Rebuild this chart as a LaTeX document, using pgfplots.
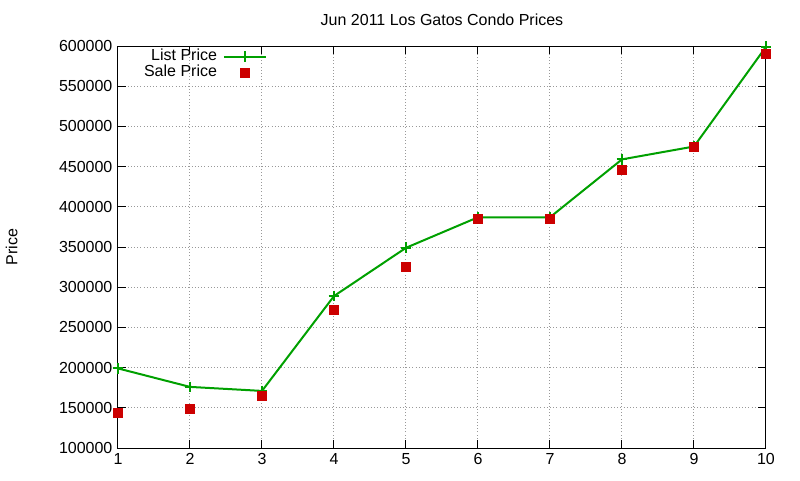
\documentclass[border=0pt]{standalone}
\usepackage{pgfplots}
\pgfplotsset{compat=1.18}
\usepackage{fontspec}
\setmainfont{Liberation Sans}

\definecolor{listgreen}{RGB}{0,160,0}
\definecolor{salered}{RGB}{204,0,0}

\pgfplotsset{
    widelegend/.style={
        legend image code/.code={\draw[mark repeat=2,mark phase=2,##1] plot coordinates {(0cm,0cm) (0.55cm,0cm) (1.1cm,0cm)};}
    }
}

\begin{document}
\fontsize{12}{14}\selectfont
\begin{tikzpicture}
\useasboundingbox (0,0) rectangle (600pt,360pt);
\begin{axis}[
    at={(88.5pt,24pt)}, anchor=south west,
    scale only axis,
    width=486pt, height=301.5pt,
    xmin=1, xmax=10, ymin=100000, ymax=600000,
    xtick={1,...,10},
    ytick={100000,150000,...,600000},
    scaled y ticks=false,
    /pgf/number format/.cd, fixed, 1000 sep={}, assume math mode=true,
    /pgfplots/.cd,
    tick align=inside,
    major tick length=6pt,
    tick style={black, line width=0.75pt},
    axis line style={black, line width=0.75pt},
    grid=major,
    grid style={gray!80, dotted, line width=0.75pt},
    title={Jun 2011 Los Gatos Condo Prices},
    title style={at={(axis description cs:0.5,1)}, anchor=south, yshift=5pt},
    ylabel={Price},
    ylabel style={at={(axis description cs:-0.164,0.5)}, anchor=center},
    legend plot pos=right,
    legend cell align=right,
    legend style={draw=none, fill=none, at={(axis description cs:0.232,0.997)}, anchor=north east,
        row sep=0pt, column sep=4pt, inner sep=1pt,
        nodes={inner sep=0.5pt, text height=8.6pt, text depth=2.4pt}},
]
\addplot[listgreen, line width=1.5pt, mark=+, mark size=4pt, widelegend]
coordinates {
    (1,199000) (2,176000) (3,171000) (4,289000) (5,349000)
    (6,387000) (7,387000) (8,459000) (9,475000) (10,599000)
};
\addlegendentry{List Price}
\addplot[salered, only marks, mark=square*, mark size=3.4pt, widelegend]
coordinates {
    (1,144000) (2,149000) (3,165000) (4,272000) (5,325000)
    (6,385000) (7,385000) (8,446000) (9,475000) (10,590000)
};
\addlegendentry{Sale Price}
\end{axis}
\end{tikzpicture}
\end{document}
